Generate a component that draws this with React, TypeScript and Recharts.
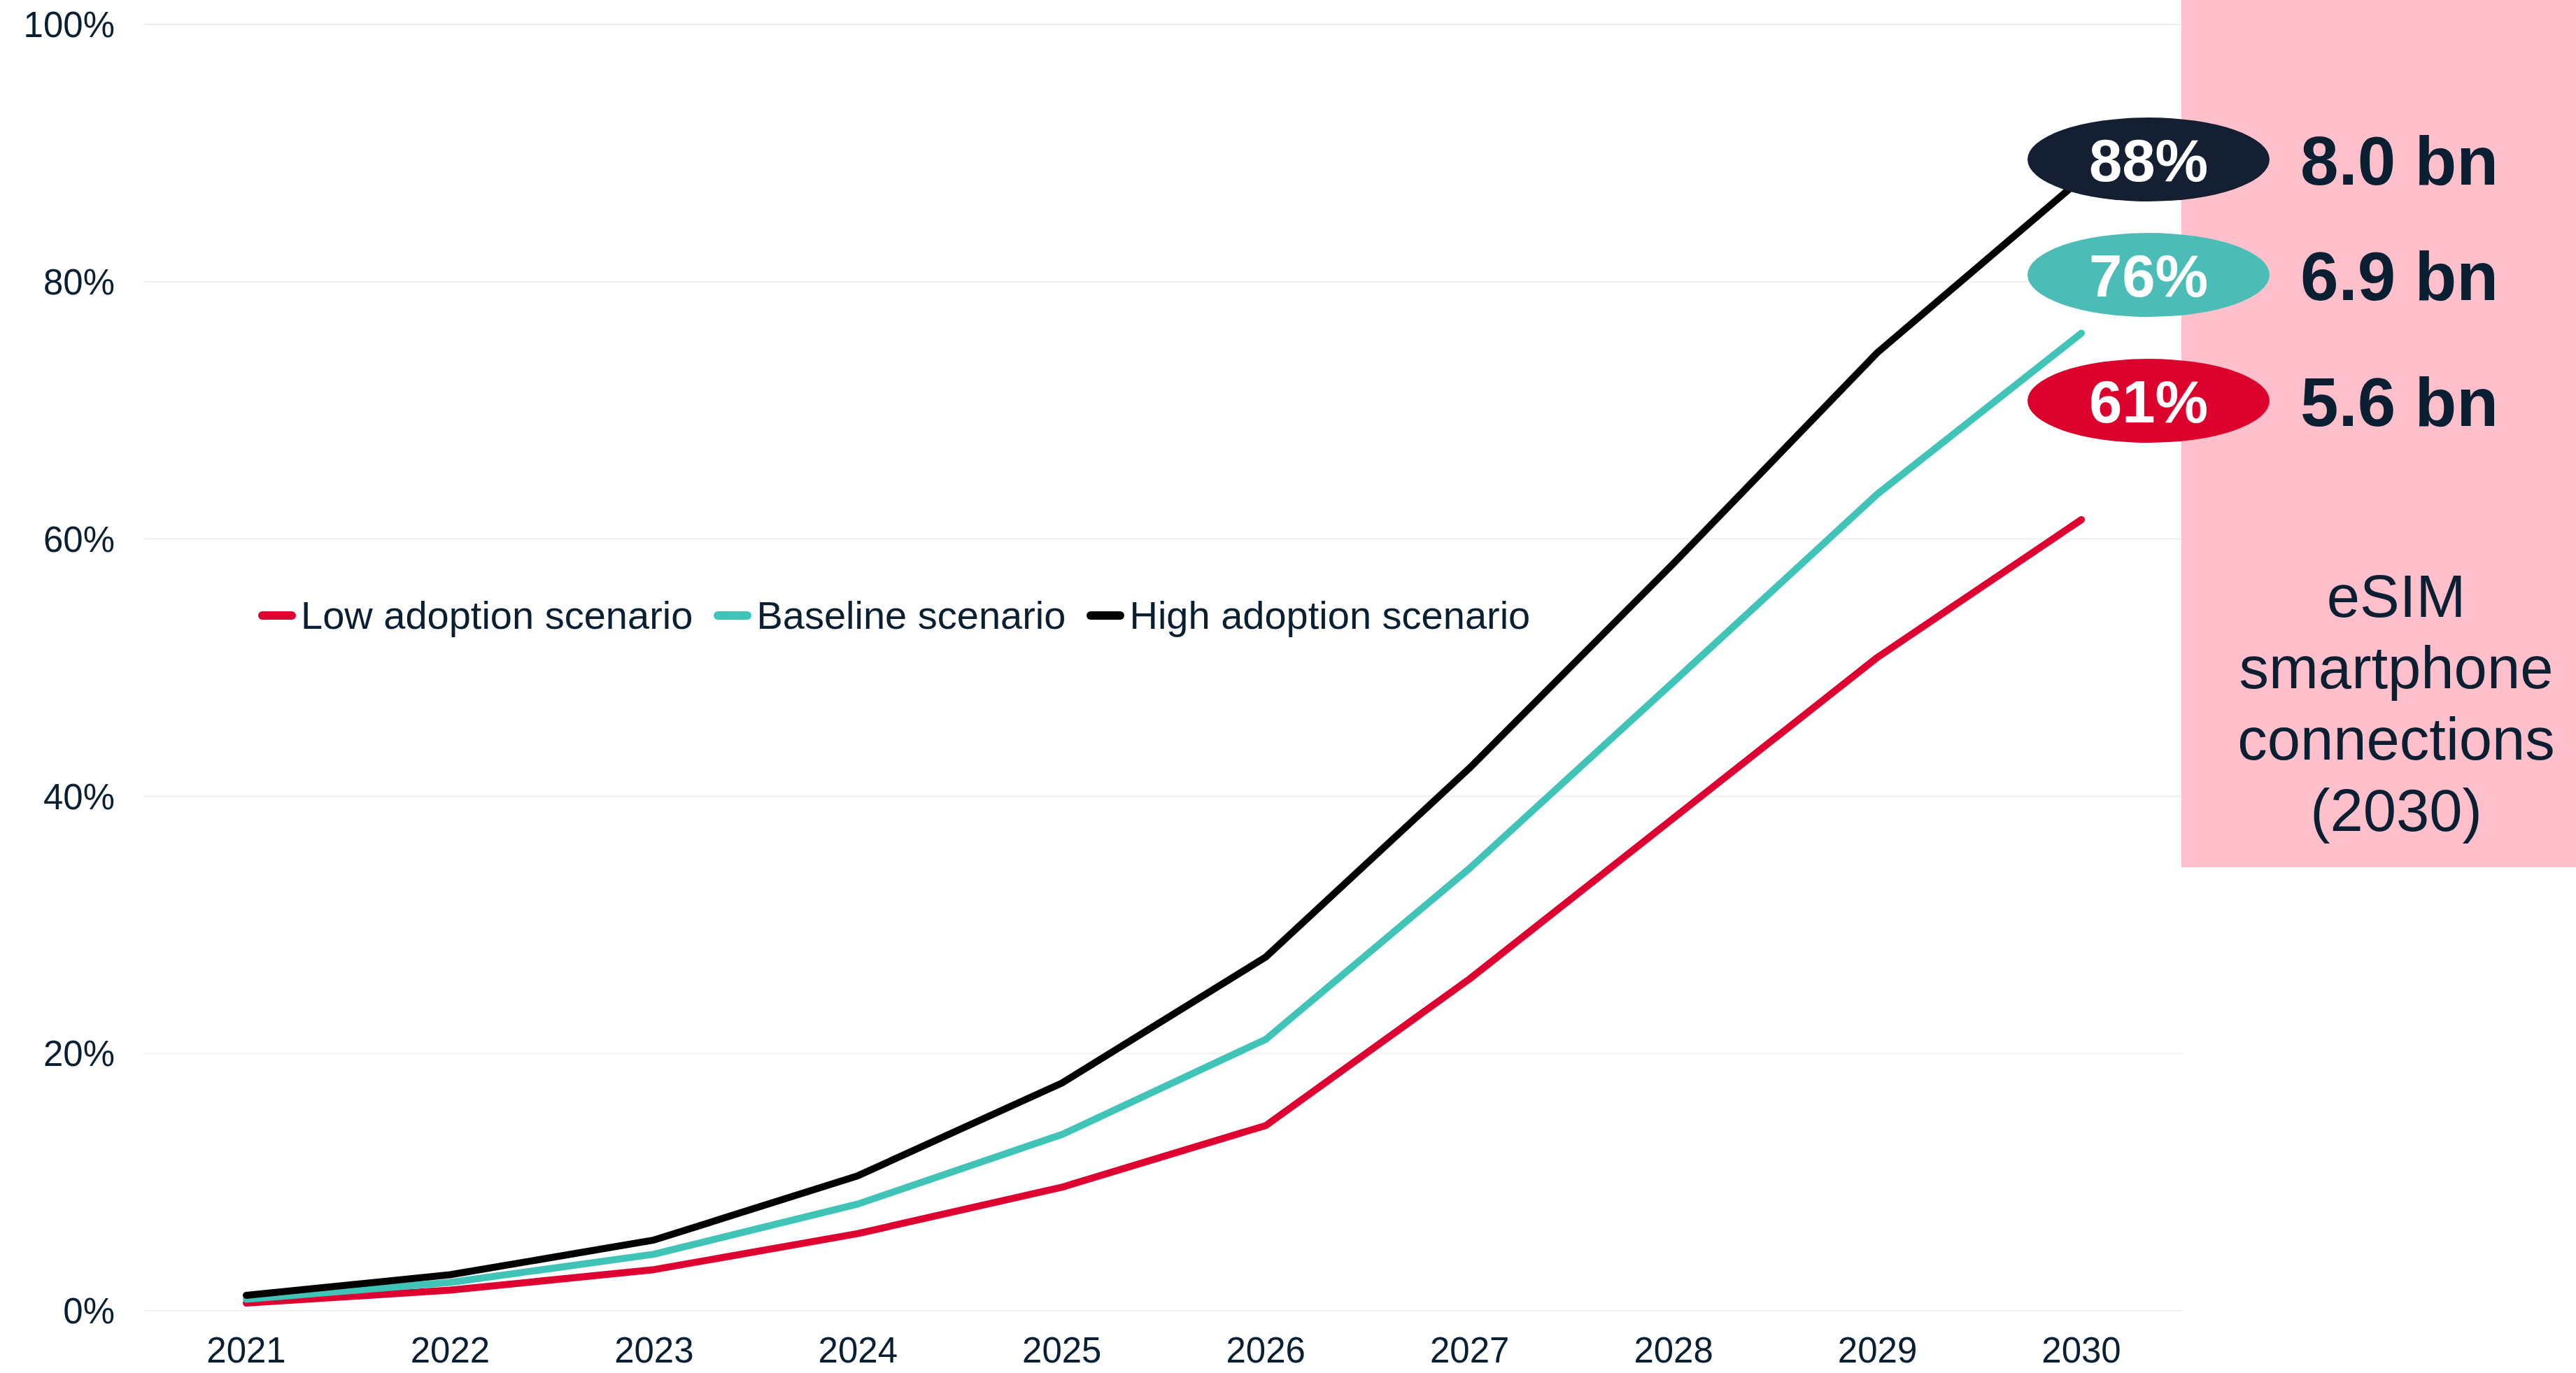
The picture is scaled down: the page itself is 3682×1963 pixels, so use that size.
import React from 'react';
import { LineChart, Line, XAxis, YAxis, CartesianGrid, Legend } from 'recharts';

const years = ['2021', '2022', '2023', '2024', '2025', '2026', '2027', '2028', '2029', '2030'];
const lowAdoption = [0.6, 1.6, 3.2, 6.0, 9.6, 14.4, 25.8, 38.3, 50.8, 61.5];
const baseline = [0.9, 2.2, 4.4, 8.3, 13.7, 21.1, 34.4, 48.9, 63.5, 76];
const highAdoption = [1.2, 2.8, 5.5, 10.5, 17.7, 27.5, 42.2, 58.1, 74.5, 88];
const yTicks = [0, 20, 40, 60, 80, 100];

const seriesKeys = ['low', 'base', 'high'];
const seriesNames = ['Low adoption scenario', 'Baseline scenario', 'High adoption scenario'];
const seriesColors = ['#DD0031', '#40C4B8', '#000000'];

const badgeLabels = ['88%', '76%', '61%'];
const badgeColors = ['#142032', '#4CBDB6', '#DC002D'];
const connectionLabels = ['8.0 bn', '6.9 bn', '5.6 bn'];
const panelTitle = ['eSIM', 'smartphone', 'connections', '(2030)'];

const data = years.map((y, i) => ({
  year: y,
  low: lowAdoption[i],
  base: baseline[i],
  high: highAdoption[i],
}));

const W = 3682;
const H = 1963;
const FONT = '"Liberation Sans", Arial, Helvetica, sans-serif';
const TEXT = '#0B1F33';

const renderLegend = () => (
  <div style={{ display: 'flex', alignItems: 'center', fontFamily: FONT, fontSize: 56, color: TEXT, whiteSpace: 'nowrap', lineHeight: '64px' }}>
    {seriesNames.map((n, i) => (
      <div key={n} style={{ display: 'flex', alignItems: 'center', marginRight: 30 }}>
        <div style={{ width: 54, height: 12, borderRadius: 6, background: seriesColors[i], marginRight: 7 }} />
        <span>{n}</span>
      </div>
    ))}
  </div>
);

export default function App() {
  return (
    <div style={{ position: 'absolute', left: 0, top: 0, width: W, height: H, background: '#fff' }}>
      <LineChart
        width={W}
        height={H}
        data={data}
        margin={{ top: 35, right: 561, bottom: 0, left: 0 }}
      >
        <CartesianGrid vertical={false} stroke="#EFEFEF" strokeWidth={2} />
        <XAxis
          dataKey="year"
          height={89}
          axisLine={false}
          tickLine={false}
          tickSize={0}
          tickMargin={38}
          padding={{ left: 146, right: 146 }}
          tick={{ fontSize: 51, fill: TEXT, fontFamily: FONT }}
          interval={0}
        />
        <YAxis
          width={206}
          domain={[0, 100]}
          ticks={yTicks}
          axisLine={false}
          tickLine={false}
          tickSize={0}
          tickMargin={42}
          tickFormatter={(v) => `${v}%`}
          tick={{ fontSize: 51, fill: TEXT, fontFamily: FONT }}
        />
        <Legend
          content={renderLegend}
          layout="horizontal"
          verticalAlign="middle"
          align="center"
          wrapperStyle={{ left: 369, top: 848, width: 'auto', height: 'auto' }}
        />
        {seriesKeys.map((k, i) => (
          <Line
            key={k}
            type="linear"
            dataKey={k}
            name={seriesNames[i]}
            stroke={seriesColors[i]}
            strokeWidth={10}
            strokeLinecap="round"
            strokeLinejoin="round"
            dot={false}
            activeDot={false}
            isAnimationActive={false}
          />
        ))}
      </LineChart>
      <svg
        width={W}
        height={H}
        style={{ position: 'absolute', left: 0, top: 0, pointerEvents: 'none' }}
      >
        <rect x={3118} y={0} width={W - 3118} height={1240} fill="pink" />
        {badgeLabels.map((b, i) => {
          const cy = [228, 393, 573][i];
          return (
            <g key={b}>
              <ellipse cx={3071} cy={cy} rx={173} ry={60} fill={badgeColors[i]} />
              <text x={3071} y={cy + 31} textAnchor="middle" fontFamily={FONT} fontWeight="bold" fontSize={85} fill="#fff">
                {b}
              </text>
              <text x={3288} y={cy + 36} textAnchor="start" fontFamily={FONT} fontWeight="bold" fontSize={98} fill={TEXT}>
                {connectionLabels[i]}
              </text>
            </g>
          );
        })}
        {panelTitle.map((t, i) => (
          <text key={t} x={3425} y={882 + i * 102} textAnchor="middle" fontFamily={FONT} fontSize={85} fill={TEXT}>
            {t}
          </text>
        ))}
      </svg>
    </div>
  );
}
